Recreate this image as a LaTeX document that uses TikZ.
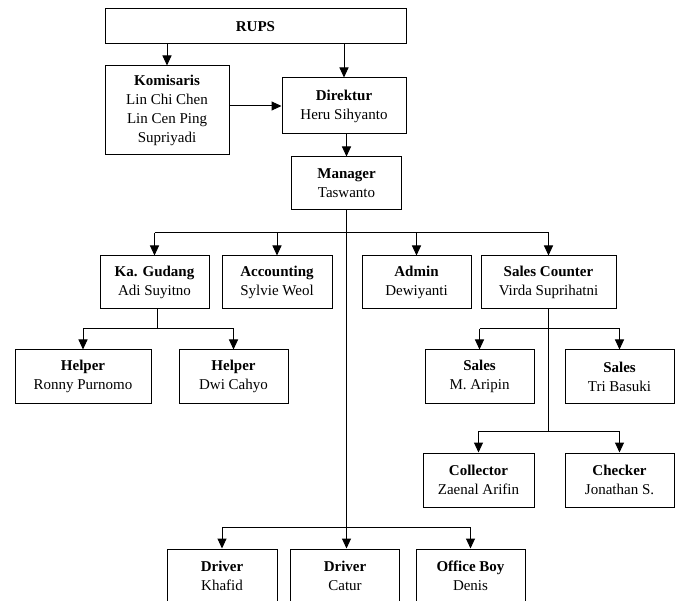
\documentclass[tikz,border=0pt]{standalone}
\usepackage{fontspec}
\setmainfont{Liberation Serif}
\usetikzlibrary{arrows.meta}
\begin{document}
\begin{tikzpicture}[x=1pt,y=-1pt,
  box/.style={draw, line width=1pt, inner sep=0pt, minimum height=53pt, align=center,
    font=\fontsize{15}{19}\selectfont},
  arr/.style={line width=1pt, -{Triangle[length=10pt,width=9pt]}},
  bus/.style={line width=1pt}]
\useasboundingbox (0,0) rectangle (677,601);
\clip (0,0) rectangle (677,601);
\node[box, minimum width=301pt, minimum height=35pt] (rups) at (255.5,26.5) {\textbf{RUPS}};
\node[box, minimum width=124pt, minimum height=89pt] (komisaris) at (167,110.5) {\textbf{Komisaris}\\Lin Chi Chen\\Lin Cen Ping\\Supriyadi};
\node[box, minimum width=124pt, minimum height=56pt] (direktur) at (344,106) {\textbf{Direktur}\\Heru Sihyanto};
\node[box, minimum width=110pt] (manager) at (346.5,183.5) {\textbf{Manager}\\Taswanto};
\node[box, minimum width=109pt] (kagudang) at (154.5,282.5) {\textbf{Ka. Gudang}\\Adi Suyitno};
\node[box, minimum width=110pt] (accounting) at (277,282.5) {\textbf{Accounting}\\Sylvie Weol};
\node[box, minimum width=109pt] (admin) at (416.5,282.5) {\textbf{Admin}\\Dewiyanti};
\node[box, minimum width=135pt] (salescounter) at (548.5,282.5) {\textbf{Sales Counter}\\Virda Suprihatni};
\node[box, minimum width=136pt] (helperA) at (83,376.5) {\textbf{Helper}\\Ronny Purnomo};
\node[box, minimum width=109pt] (helperB) at (233.5,376.5) {\textbf{Helper}\\Dwi Cahyo};
\node[box, minimum width=109pt] (salesA) at (479.5,376.5) {\textbf{Sales}\\M. Aripin};
\node[box, minimum width=109pt] (salesB) at (619.5,376.5) {\textbf{Sales}\\Tri Basuki};
\node[box, minimum width=111pt, minimum height=54pt] (collector) at (478.5,480) {\textbf{Collector}\\Zaenal Arifin};
\node[box, minimum width=109pt, minimum height=54pt] (checker) at (619.5,480) {\textbf{Checker}\\Jonathan S.};
\node[box, minimum width=110pt] (driverA) at (222,575.5) {\textbf{Driver}\\Khafid};
\node[box, minimum width=109pt] (driverB) at (345,575.5) {\textbf{Driver}\\Catur};
\node[box, minimum width=109pt] (officeboy) at (470.5,575.5) {\textbf{Office Boy}\\Denis};
% bus lines
\coordinate (mbus) at (346.5,233);
\coordinate (dbus) at (346.5,527);
\coordinate (kbus) at (157,329);
\coordinate (sbus) at (548.5,329);
\coordinate (cbus) at (548.5,431);
% top part
\path[draw,arr] (rups.south -| komisaris) -- (komisaris);
\path[draw,arr] (rups.south -| direktur) -- (direktur);
\path[draw,arr] (komisaris.east |- direktur) -- (direktur);
\path[draw,arr] (direktur.south -| manager) -- (manager);
% manager
\path[draw,arr] (manager.south) -- (manager.south |- driverB.north);
\path[draw,bus] (kagudang.north |- mbus) -- (salescounter.north |- mbus);
\foreach \n in {kagudang,accounting,admin,salescounter}
  \path[draw,arr] (\n.north |- mbus) -- (\n);
\path[draw,bus] (driverA.north |- dbus) -- (officeboy.north |- dbus);
\foreach \n in {driverA,officeboy}
  \path[draw,arr] (\n.north |- dbus) -- (\n);
% ka. gudang
\path[draw,bus] (kbus |- kagudang.south) -- (kbus);
\path[draw,bus] (helperA.north |- kbus) -- (helperB.north |- kbus);
\foreach \n in {helperA,helperB}
  \path[draw,arr] (\n.north |- kbus) -- (\n);
% sales counter
\path[draw,bus] (salescounter.south) -- (cbus);
\path[draw,bus] (salesA.north |- sbus) -- (salesB.north |- sbus);
\foreach \n in {salesA,salesB}
  \path[draw,arr] (\n.north |- sbus) -- (\n);
\path[draw,bus] (collector.north |- cbus) -- (checker.north |- cbus);
\foreach \n in {collector,checker}
  \path[draw,arr] (\n.north |- cbus) -- (\n);
\end{tikzpicture}
\end{document}
